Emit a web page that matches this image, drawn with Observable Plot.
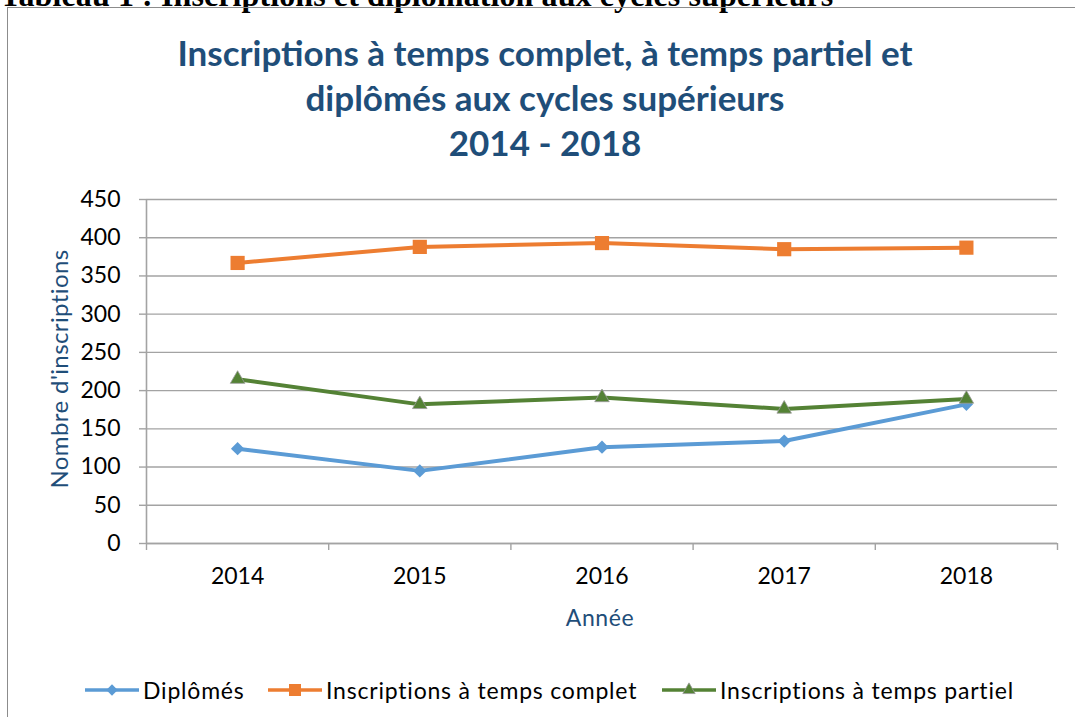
<!DOCTYPE html>
<html><head><meta charset="utf-8">
<script src="https://cdn.jsdelivr.net/npm/d3@7"></script>
<script src="https://cdn.jsdelivr.net/npm/@observablehq/plot@0.6"></script>
<style>
html,body{margin:0;padding:0;background:#fff;}
body{width:1075px;height:717px;overflow:hidden;position:relative;font-family:Lato,"Open Sans",sans-serif;}
#caption{position:absolute;left:0;top:-21px;font-family:"Liberation Serif","Times New Roman",serif;font-weight:bold;font-size:32px;line-height:32px;letter-spacing:0.1px;white-space:nowrap;color:#000;}
#frame{position:absolute;left:7px;top:7px;width:1200px;height:800px;border-left:1.5px solid #8c8c8c;border-top:1.5px solid #8c8c8c;}
#chart{position:absolute;left:0;top:0;}
#title{position:absolute;left:0;width:1090px;top:30px;text-align:center;font-weight:bold;font-size:35px;line-height:45px;color:#1F4E79;}
#ylabel{position:absolute;left:58px;top:369px;transform:translate(-50%,-50%) rotate(-90deg);white-space:nowrap;font-size:24px;letter-spacing:0.4px;color:#1F4E79;}
#xlabel{position:absolute;left:600px;top:617px;transform:translate(-50%,-50%);font-size:23px;letter-spacing:0.6px;color:#1F4E79;}
#legend{position:absolute;left:0;top:690px;width:1075px;}
.item{position:absolute;top:0;display:flex;align-items:center;transform:translateY(-50%);font-size:23px;letter-spacing:0.8px;color:#000;white-space:nowrap;}
.item svg{display:block;margin-right:4px;}
</style></head><body>
<div id="caption">Tableau 1 : Inscriptions et diplomation aux cycles supérieurs</div>
<div id="frame"></div>
<div id="chart"></div>
<div id="title">Inscriptions à temps complet, à temps partiel et<br>diplômés aux cycles supérieurs<br>2014 - 2018</div>
<div id="ylabel">Nombre d'inscriptions</div>
<div id="xlabel">Année</div>
<div id="legend"></div>
<script>
const years = [2014, 2015, 2016, 2017, 2018];
const diplomes = [124, 95, 126, 134, 182];
const complet = [367, 388, 393, 385, 387];
const partiel = [215, 182, 191, 176, 189];
const seriesNames = ["Diplômés", "Inscriptions à temps complet", "Inscriptions à temps partiel"];
const seriesValues = [diplomes, complet, partiel];
const seriesColors = ["#5B9BD5", "#ED7D31", "#548235"];
const seriesSymbols = ["diamond2", "square", "triangle"];
const seriesRadius = [6, 8, 5.4];
const yTicks = [0, 50, 100, 150, 200, 250, 300, 350, 400, 450];

const yearBounds = years.map(y => y - 0.5).concat([years[years.length - 1] + 0.5]);
const rows = [];
seriesNames.forEach((s, i) => years.forEach((y, j) => rows.push({series: s, year: y, value: seriesValues[i][j]})));

const gray = "#A3A3A3";
const chart = Plot.plot({
  width: 1075,
  height: 717,
  marginLeft: 146,
  marginRight: 18,
  marginTop: 199,
  marginBottom: 174,
  style: {fontFamily: "Lato, 'Open Sans', sans-serif", fontSize: "23px", color: "#000", background: "transparent", overflow: "visible"},
  x: {type: "linear", domain: [yearBounds[0], yearBounds[yearBounds.length - 1]]},
  y: {domain: [yTicks[0], yTicks[yTicks.length - 1]]},
  color: {domain: seriesNames, range: seriesColors},
  symbol: {domain: seriesNames, range: seriesSymbols},
  marks: [
    Plot.gridY(yTicks, {stroke: gray, strokeOpacity: 1, strokeWidth: 1.4}),
    Plot.ruleX([yearBounds[0]], {stroke: gray, strokeWidth: 1.6}),
    Plot.ruleY([yTicks[0]], {stroke: gray, strokeWidth: 1.6}),
    Plot.axisY({ticks: yTicks, tickSize: 7, tickPadding: 19, stroke: gray, strokeWidth: 1.4, fill: "#000", label: null}),
    Plot.axisX({ticks: years, tickSize: 0, tickPadding: 24, tickFormat: d => String(d), fill: "#000", label: null}),
    Plot.axisX({ticks: yearBounds, tickSize: 7, tickFormat: () => "", stroke: gray, strokeWidth: 1.4, label: null}),
    Plot.line(rows, {x: "year", y: "value", z: "series", stroke: "series", strokeWidth: 4}),
    ...seriesNames.map((s, i) => Plot.dot(rows.filter(d => d.series === s), {
      x: "year", y: "value", fill: "series", symbol: "series", r: seriesRadius[i],
      stroke: i === 2 ? "#9a9a9a" : "none", strokeWidth: 0.8
    }))
  ]
});
document.getElementById("chart").appendChild(chart);

// legend
const legendX = [85, 268, 662];
const legend = document.getElementById("legend");
seriesNames.forEach((s, i) => {
  const item = document.createElement("div");
  item.className = "item";
  item.style.left = legendX[i] + "px";
  const svg = d3.create("svg").attr("width", 54).attr("height", 20);
  svg.append("line").attr("x1", 0).attr("x2", 54).attr("y1", 10).attr("y2", 10)
    .attr("stroke", seriesColors[i]).attr("stroke-width", 3.6);
  const symType = {diamond2: d3.symbolDiamond2, square: d3.symbolSquare, triangle: d3.symbolTriangle}[seriesSymbols[i]];
  const r = seriesRadius[i] * 0.85;
  svg.append("path").attr("transform", "translate(27,10)")
    .attr("d", d3.symbol(symType, Math.PI * r * r)())
    .attr("fill", seriesColors[i]).attr("stroke", i === 2 ? "#9a9a9a" : "none").attr("stroke-width", 0.8);
  item.appendChild(svg.node());
  const t = document.createElement("span");
  t.textContent = s;
  item.appendChild(t);
  legend.appendChild(item);
});
</script>
</body></html>
